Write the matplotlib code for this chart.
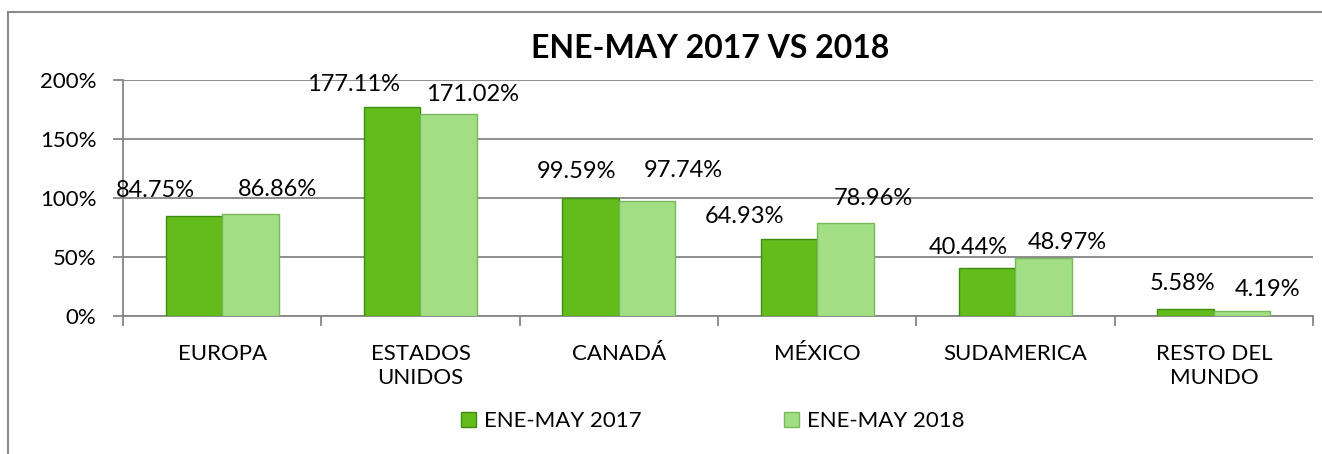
import numpy as np
import matplotlib
matplotlib.use("Agg")
import matplotlib.pyplot as plt
from matplotlib.ticker import FuncFormatter, FixedLocator
from matplotlib.lines import Line2D

plt.rcParams['font.family'] = ['Lato', 'DejaVu Sans']

# data
regions = ['EUROPA', 'ESTADOS\nUNIDOS', 'CANADÁ', 'MÉXICO', 'SUDAMERICA', 'RESTO DEL\nMUNDO']
ene_may_2017 = [84.75, 177.11, 99.59, 64.93, 40.44, 5.58]
ene_may_2018 = [86.86, 171.02, 97.74, 78.96, 48.97, 4.19]
series_names = ['ENE-MAY 2017', 'ENE-MAY 2018']
title = 'ENE-MAY 2017 VS 2018'

# label offsets (px) as they sit in the original chart
off_2017 = [(-38, 25), (-39, 23), (-14, 27), (-44, 23), (-19, 21), (-3, 26)]
off_2018 = [(27, 24), (24, 20), (36, 30), (28, 24), (24, 16), (25, 22)]

W, H = 1322, 454
fig = plt.figure(figsize=(W / 100, H / 100), dpi=100)
ax = fig.add_axes([123 / W, 1 - 316 / H, (1313 - 123) / W, (316 - 80) / H])

# outer chart frame (cut by the image edges)
frame_col = '#8c8c8c'
fig.add_artist(Line2D([8 / W, 1], [1 - 12 / H, 1 - 12 / H], color=frame_col, lw=1.5))
fig.add_artist(Line2D([8 / W, 8 / W], [0, 1 - 12 / H], color=frame_col, lw=1.5))

x = np.arange(len(regions))
bw = 0.285
dark = '#62bc1c'
light = '#a2df84'
b1 = ax.bar(x - bw / 2, ene_may_2017, bw, color=dark, edgecolor='#3f8c12', linewidth=1.0,
            label=series_names[0], zorder=3)
b2 = ax.bar(x + bw / 2, ene_may_2018, bw, color=light, edgecolor='#78b85a', linewidth=1.0,
            label=series_names[1], zorder=3)

for bars, vals, offs in [(b1, ene_may_2017, off_2017), (b2, ene_may_2018, off_2018)]:
    for rect, v, (dx, dy) in zip(bars, vals, offs):
        ax.annotate(f'{v:.2f}%', (rect.get_x() + rect.get_width() / 2, v),
                    xytext=(dx * 0.72, dy * 0.72), textcoords='offset points',
                    ha='center', va='center', fontsize=17, zorder=4)

ax.set_xlim(-0.5, len(regions) - 0.5)
ax.set_ylim(0, 200)
ax.set_yticks([0, 50, 100, 150, 200])
ax.yaxis.set_major_formatter(FuncFormatter(lambda v, p: f'{v:.0f}%'))
ax.yaxis.grid(True, color='#868686', linewidth=1.3, zorder=0)

ax.set_xticks(x)
ax.set_xticklabels(regions, fontsize=16, linespacing=1.25)
ax.xaxis.set_minor_locator(FixedLocator(np.arange(-0.5, len(regions), 1.0)))
ax.tick_params(axis='x', which='major', length=0, pad=20)
ax.tick_params(axis='x', which='minor', length=7, width=1.3, color='#868686')
ax.tick_params(axis='y', length=7, width=1.3, color='#868686', labelsize=16, pad=12)

for s in ['top', 'right']:
    ax.spines[s].set_visible(False)
for s in ['left', 'bottom']:
    ax.spines[s].set_color('#868686')
    ax.spines[s].set_linewidth(1.3)

fig.text(710 / W, 1 - 49 / H, title, ha='center', va='center', fontsize=23, fontweight='bold')

fig.legend(handles=[b1, b2], loc='center', bbox_to_anchor=(713 / W, 1 - 421 / H), ncol=2,
           frameon=False, fontsize=16, handlelength=0.68, handleheight=0.68,
           handletextpad=0.35, columnspacing=6.4)

fig.savefig('out.png', dpi=100)
